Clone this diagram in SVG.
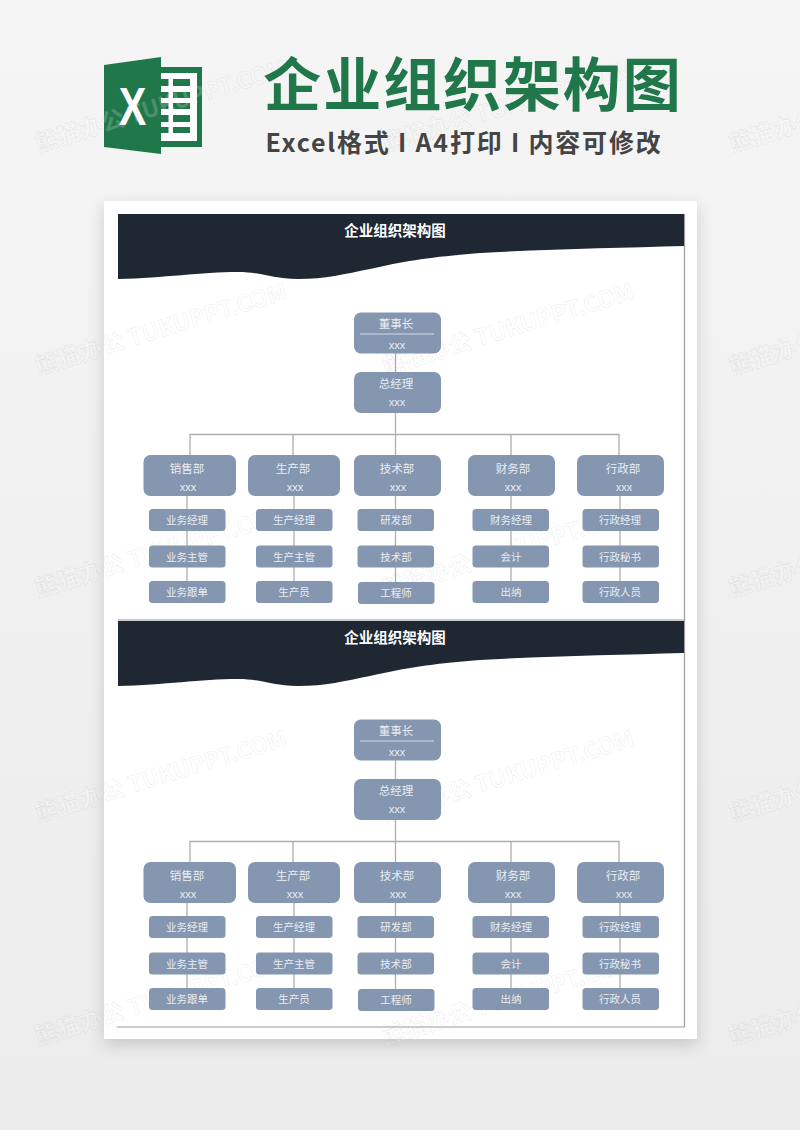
<svg xmlns="http://www.w3.org/2000/svg" width="800" height="1130" viewBox="0 0 800 1130">
<defs>
<linearGradient id="bg" x1="0" y1="0" x2="0" y2="1"><stop offset="0" stop-color="#f5f5f5"/><stop offset="1" stop-color="#ececec"/></linearGradient>
<filter id="sh" x="-10%" y="-10%" width="120%" height="120%"><feDropShadow dx="0" dy="6" stdDeviation="8" flood-color="#000" flood-opacity=".16"/></filter>
<g id="wm"><text class="wm" transform="rotate(-17)">熊猫办公 TUKUPPT.COM</text></g>
</defs>
<style>
text{font-family:"Noto Sans CJK SC","Liberation Sans",sans-serif;text-anchor:middle}
.n{fill:#8496b0}
.t{fill:#e9edf3;font-size:10.5px}
.d{font-size:11.500px}
.x{fill:#e9edf3;font-size:11px;font-family:"Liberation Sans",sans-serif}
.c{stroke:#adadad;stroke-width:1.3;fill:none}
.wm{fill:#fff;fill-opacity:.2;stroke:#8f8f8f;stroke-width:.5;stroke-opacity:.2;font-size:23px;font-weight:700;text-anchor:start}
.h{fill:#fff;font-size:14.500px;font-weight:700}
.hd{fill:#1f2733}
</style>
<rect width="800" height="1130" fill="url(#bg)"/>
<g id="logo">
<path d="M161 67H202V147H161Z" fill="#20774a"/>
<path d="M161 73H197V141H161Z" fill="#fff"/>
<path d="M161 79H168.500V86H161ZM173 79H190V86H173ZM161 92H168.500V98H161ZM173 92H190V98H173ZM161 103H168.500V109H161ZM173 103H190V109H173ZM161 115H168.500V122H161ZM173 115H190V122H173ZM161 127H168.500V133H161ZM173 127H190V133H173Z" fill="#20774a"/>
<path d="M104 65L161 57V154L104 147Z" fill="#20774a"/>
<text transform="translate(132.500 125) scale(.78 1)" font-size="53" font-weight="700" fill="#fff" style="font-family:'Liberation Sans',sans-serif">X</text>
</g>
<rect id="page" x="104" y="201" width="593" height="838" fill="#fff" filter="url(#sh)"/>
<g id="watermarks">
<use href="#wm" x="38" y="375"/><use href="#wm" x="385" y="375"/><use href="#wm" x="732" y="375"/>
<use href="#wm" x="38" y="597"/><use href="#wm" x="385" y="597"/><use href="#wm" x="732" y="597"/>
<use href="#wm" x="38" y="822"/><use href="#wm" x="385" y="822"/><use href="#wm" x="732" y="822"/>
<use href="#wm" x="38" y="1045"/><use href="#wm" x="385" y="1045"/><use href="#wm" x="732" y="1045"/>
<use href="#wm" x="385" y="152"/><use href="#wm" x="732" y="152"/><use href="#wm" x="38" y="152"/>
</g>
<text id="title" x="473" y="106" font-size="58" font-weight="700" fill="#20774a" letter-spacing="1.900">企业组织架构图</text>
<text id="subtitle" x="464" y="152" font-size="25" font-weight="700" fill="#444" letter-spacing="1.800">Excel格式 I A4打印 I 内容可修改</text>
<g id="frame" fill="none" stroke="#9c9c9c" stroke-width="1.2"><path d="M684.500 214V1027H117"/><path d="M118 620H684"/></g>

<g id="sheet1">
<path class="hd" d="M118 214H684V246C620 248 550 249 480 253C430 257 405 261 370 269C345 274 325 279 298 279C272 279 262 272 238 272C200 272 165 278 118 279Z"/>
<text class="h" x="395" y="236">企业组织架构图</text>
<g id="connectors1" class="c"><path d="M395.500 353V455M190 455V434.500H619V455M293 434.500V455M511 434.500V455M187 496V581M294 496V581M395.500 496V582M511 496V581M620 496V581"/></g>
<g id="n1-chair"><rect class="n" x="354" y="312.500" width="87" height="41" rx="7"/><path d="M360 334H434" stroke="#d5dbe4"/><text class="t d" x="396" y="328">董事长</text><text class="x" x="397" y="349">xxx</text></g>
<g id="n1-gm"><rect class="n" x="354" y="372" width="87" height="41" rx="7"/><text class="t d" x="396" y="387.500">总经理</text><text class="x" x="397" y="405.500">xxx</text></g>
<g id="n1-sales"><rect class="n" x="143.500" y="455" width="92.500" height="41" rx="7"/><text class="t d" x="187" y="472.500">销售部</text><text class="x" x="188" y="491">xxx</text></g>
<g id="n1-prod"><rect class="n" x="248" y="455" width="92" height="41" rx="7"/><text class="t d" x="293" y="472.500">生产部</text><text class="x" x="295" y="491">xxx</text></g>
<g id="n1-tech"><rect class="n" x="354" y="455" width="87" height="41" rx="7"/><text class="t d" x="397" y="472.500">技术部</text><text class="x" x="398" y="491">xxx</text></g>
<g id="n1-fin"><rect class="n" x="468" y="455" width="87" height="41" rx="7"/><text class="t d" x="513" y="472.500">财务部</text><text class="x" x="513" y="491">xxx</text></g>
<g id="n1-admin"><rect class="n" x="577" y="455" width="87" height="41" rx="7"/><text class="t d" x="623" y="472.500">行政部</text><text class="x" x="624" y="491">xxx</text></g>
<g id="n1-s1"><rect class="n" x="149" y="509" width="76.500" height="22" rx="3.500"/><text class="t" x="187" y="524">业务经理</text></g>
<g id="n1-s2"><rect class="n" x="149" y="545.500" width="76.500" height="22" rx="3.500"/><text class="t" x="187" y="560.500">业务主管</text></g>
<g id="n1-s3"><rect class="n" x="149" y="581" width="76.500" height="22" rx="3.500"/><text class="t" x="187" y="596">业务跟单</text></g>
<g id="n1-p1"><rect class="n" x="256" y="509" width="76.500" height="22" rx="3.500"/><text class="t" x="294" y="524">生产经理</text></g>
<g id="n1-p2"><rect class="n" x="256" y="545.500" width="76.500" height="22" rx="3.500"/><text class="t" x="294" y="560.500">生产主管</text></g>
<g id="n1-p3"><rect class="n" x="256" y="581" width="76.500" height="22" rx="3.500"/><text class="t" x="294" y="596">生产员</text></g>
<g id="n1-t1"><rect class="n" x="357.500" y="509" width="76.500" height="22" rx="3.500"/><text class="t" x="396" y="524">研发部</text></g>
<g id="n1-t2"><rect class="n" x="357.500" y="545.500" width="76.500" height="22" rx="3.500"/><text class="t" x="396" y="560.500">技术部</text></g>
<g id="n1-t3"><rect class="n" x="358" y="582" width="76.500" height="22" rx="3.500"/><text class="t" x="396" y="597">工程师</text></g>
<g id="n1-f1"><rect class="n" x="472.500" y="509" width="76.500" height="22" rx="3.500"/><text class="t" x="511" y="524">财务经理</text></g>
<g id="n1-f2"><rect class="n" x="472.500" y="545.500" width="76.500" height="22" rx="3.500"/><text class="t" x="511" y="560.500">会计</text></g>
<g id="n1-f3"><rect class="n" x="472.500" y="581" width="76.500" height="22" rx="3.500"/><text class="t" x="511" y="596">出纳</text></g>
<g id="n1-a1"><rect class="n" x="582.500" y="509" width="76.500" height="22" rx="3.500"/><text class="t" x="620" y="524">行政经理</text></g>
<g id="n1-a2"><rect class="n" x="582.500" y="545.500" width="76.500" height="22" rx="3.500"/><text class="t" x="620" y="560.500">行政秘书</text></g>
<g id="n1-a3"><rect class="n" x="582.500" y="581" width="76.500" height="22" rx="3.500"/><text class="t" x="620" y="596">行政人员</text></g>
</g>

<g id="sheet2" transform="translate(0 407)">
<path class="hd" d="M118 214H684V246C620 248 550 249 480 253C430 257 405 261 370 269C345 274 325 279 298 279C272 279 262 272 238 272C200 272 165 278 118 279Z"/>
<text class="h" x="395" y="236">企业组织架构图</text>
<g id="connectors2" class="c"><path d="M395.500 353V455M190 455V434.500H619V455M293 434.500V455M511 434.500V455M187 496V581M294 496V581M395.500 496V582M511 496V581M620 496V581"/></g>
<g id="n2-chair"><rect class="n" x="354" y="312.500" width="87" height="41" rx="7"/><path d="M360 334H434" stroke="#d5dbe4"/><text class="t d" x="396" y="328">董事长</text><text class="x" x="397" y="349">xxx</text></g>
<g id="n2-gm"><rect class="n" x="354" y="372" width="87" height="41" rx="7"/><text class="t d" x="396" y="387.500">总经理</text><text class="x" x="397" y="405.500">xxx</text></g>
<g id="n2-sales"><rect class="n" x="143.500" y="455" width="92.500" height="41" rx="7"/><text class="t d" x="187" y="472.500">销售部</text><text class="x" x="188" y="491">xxx</text></g>
<g id="n2-prod"><rect class="n" x="248" y="455" width="92" height="41" rx="7"/><text class="t d" x="293" y="472.500">生产部</text><text class="x" x="295" y="491">xxx</text></g>
<g id="n2-tech"><rect class="n" x="354" y="455" width="87" height="41" rx="7"/><text class="t d" x="397" y="472.500">技术部</text><text class="x" x="398" y="491">xxx</text></g>
<g id="n2-fin"><rect class="n" x="468" y="455" width="87" height="41" rx="7"/><text class="t d" x="513" y="472.500">财务部</text><text class="x" x="513" y="491">xxx</text></g>
<g id="n2-admin"><rect class="n" x="577" y="455" width="87" height="41" rx="7"/><text class="t d" x="623" y="472.500">行政部</text><text class="x" x="624" y="491">xxx</text></g>
<g id="n2-s1"><rect class="n" x="149" y="509" width="76.500" height="22" rx="3.500"/><text class="t" x="187" y="524">业务经理</text></g>
<g id="n2-s2"><rect class="n" x="149" y="545.500" width="76.500" height="22" rx="3.500"/><text class="t" x="187" y="560.500">业务主管</text></g>
<g id="n2-s3"><rect class="n" x="149" y="581" width="76.500" height="22" rx="3.500"/><text class="t" x="187" y="596">业务跟单</text></g>
<g id="n2-p1"><rect class="n" x="256" y="509" width="76.500" height="22" rx="3.500"/><text class="t" x="294" y="524">生产经理</text></g>
<g id="n2-p2"><rect class="n" x="256" y="545.500" width="76.500" height="22" rx="3.500"/><text class="t" x="294" y="560.500">生产主管</text></g>
<g id="n2-p3"><rect class="n" x="256" y="581" width="76.500" height="22" rx="3.500"/><text class="t" x="294" y="596">生产员</text></g>
<g id="n2-t1"><rect class="n" x="357.500" y="509" width="76.500" height="22" rx="3.500"/><text class="t" x="396" y="524">研发部</text></g>
<g id="n2-t2"><rect class="n" x="357.500" y="545.500" width="76.500" height="22" rx="3.500"/><text class="t" x="396" y="560.500">技术部</text></g>
<g id="n2-t3"><rect class="n" x="358" y="582" width="76.500" height="22" rx="3.500"/><text class="t" x="396" y="597">工程师</text></g>
<g id="n2-f1"><rect class="n" x="472.500" y="509" width="76.500" height="22" rx="3.500"/><text class="t" x="511" y="524">财务经理</text></g>
<g id="n2-f2"><rect class="n" x="472.500" y="545.500" width="76.500" height="22" rx="3.500"/><text class="t" x="511" y="560.500">会计</text></g>
<g id="n2-f3"><rect class="n" x="472.500" y="581" width="76.500" height="22" rx="3.500"/><text class="t" x="511" y="596">出纳</text></g>
<g id="n2-a1"><rect class="n" x="582.500" y="509" width="76.500" height="22" rx="3.500"/><text class="t" x="620" y="524">行政经理</text></g>
<g id="n2-a2"><rect class="n" x="582.500" y="545.500" width="76.500" height="22" rx="3.500"/><text class="t" x="620" y="560.500">行政秘书</text></g>
<g id="n2-a3"><rect class="n" x="582.500" y="581" width="76.500" height="22" rx="3.500"/><text class="t" x="620" y="596">行政人员</text></g>
</g>
</svg>
